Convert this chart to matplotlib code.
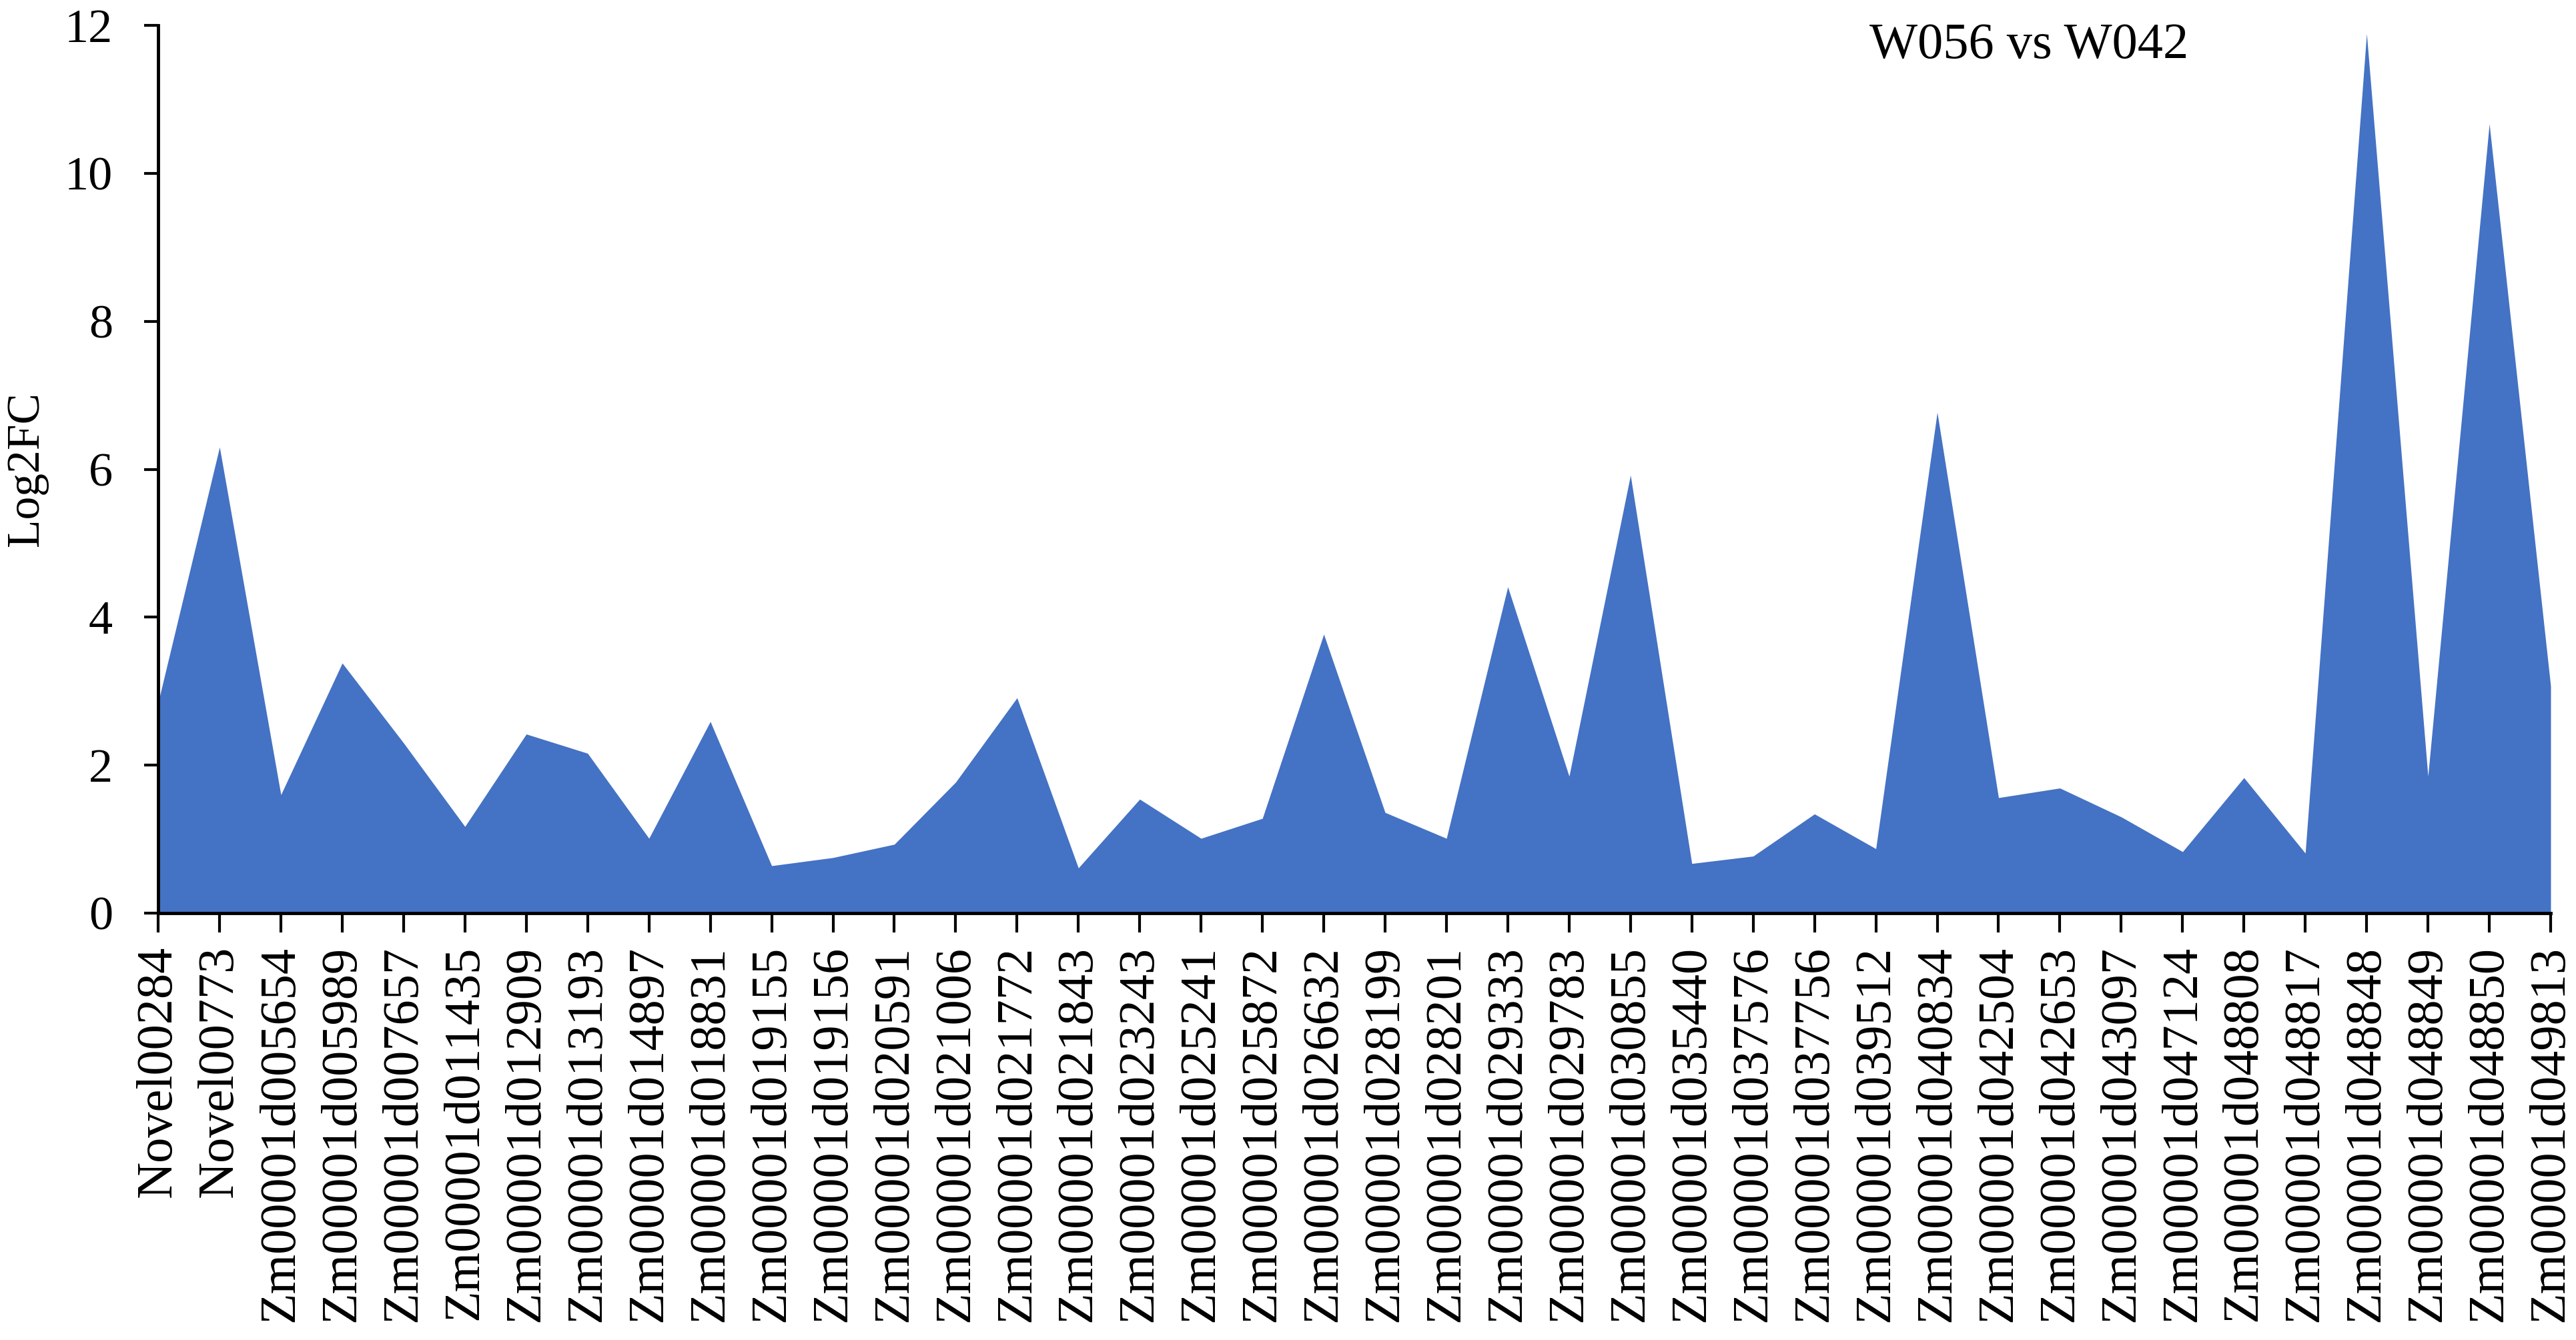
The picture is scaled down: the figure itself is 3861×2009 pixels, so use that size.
import numpy as np
import matplotlib
matplotlib.use('Agg')
import matplotlib.pyplot as plt

# gene ids along the x axis
genes = [
    'Novel00284', 'Novel00773', 'Zm00001d005654', 'Zm00001d005989', 'Zm00001d007657',
    'Zm00001d011435', 'Zm00001d012909', 'Zm00001d013193', 'Zm00001d014897', 'Zm00001d018831',
    'Zm00001d019155', 'Zm00001d019156', 'Zm00001d020591', 'Zm00001d021006', 'Zm00001d021772',
    'Zm00001d021843', 'Zm00001d023243', 'Zm00001d025241', 'Zm00001d025872', 'Zm00001d026632',
    'Zm00001d028199', 'Zm00001d028201', 'Zm00001d029333', 'Zm00001d029783', 'Zm00001d030855',
    'Zm00001d035440', 'Zm00001d037576', 'Zm00001d037756', 'Zm00001d039512', 'Zm00001d040834',
    'Zm00001d042504', 'Zm00001d042653', 'Zm00001d043097', 'Zm00001d047124', 'Zm00001d048808',
    'Zm00001d048817', 'Zm00001d048848', 'Zm00001d048849', 'Zm00001d048850', 'Zm00001d049813',
]

# Log2FC values
log2fc = [
    2.85, 6.30, 1.60, 3.38, 2.30, 1.17, 2.42, 2.16, 1.01, 2.59,
    0.64, 0.75, 0.93, 1.77, 2.91, 0.61, 1.54, 1.01, 1.28, 3.77,
    1.36, 1.01, 4.41, 1.85, 5.92, 0.67, 0.77, 1.34, 0.87, 6.77,
    1.56, 1.69, 1.30, 0.83, 1.83, 0.81, 11.89, 1.85, 10.67, 3.07,
]

yticks = [0, 2, 4, 6, 8, 10, 12]

plt.rcParams['font.family'] = ['Liberation Serif', 'DejaVu Serif']

fig = plt.figure(figsize=(38.62, 20.09), dpi=100)
ax = fig.add_axes([0.0614, 0.3186, 0.9285, 0.6624])

x = np.arange(len(genes))
ax.fill_between(x, 0, log2fc, color='#4472C4', linewidth=0)

ax.set_xlim(0, len(genes) - 1)
ax.set_ylim(0, 12)
ax.set_yticks(yticks)
ax.set_xticks(x)
ax.set_xticklabels(genes, rotation=90)

for side in ['top', 'right']:
    ax.spines[side].set_visible(False)
for side in ['left', 'bottom']:
    ax.spines[side].set_linewidth(3.5)
    ax.spines[side].set_color('black')

ax.tick_params(axis='x', direction='out', length=21, width=3, labelsize=55, pad=14)
ax.tick_params(axis='y', direction='out', length=15, width=3, labelsize=52, pad=34)

ax.set_ylabel('Log2FC', fontsize=50)
ax.yaxis.set_label_coords(-0.046, 0.5)

ax.text(0.782, 0.977, 'W056 vs W042', transform=ax.transAxes,
        fontsize=55, ha='center', va='center')

fig.savefig('out.png', dpi=100)
